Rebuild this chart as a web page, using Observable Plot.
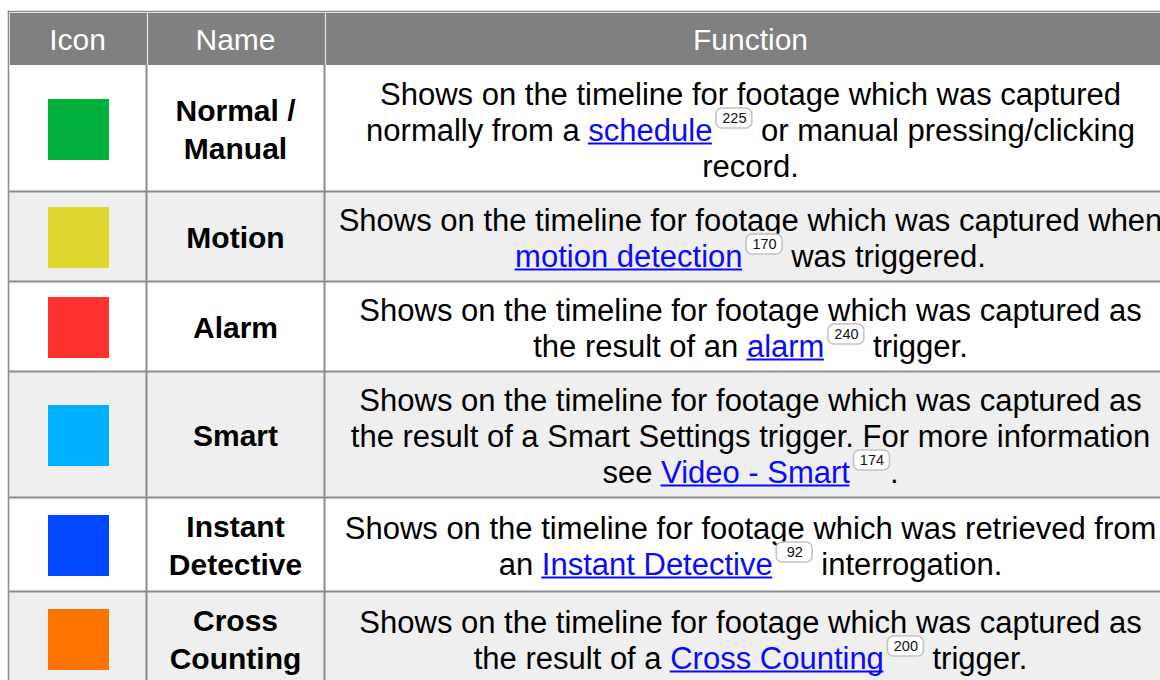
<!DOCTYPE html>
<html><head><meta charset="utf-8">
<script src="https://cdn.jsdelivr.net/npm/d3@7"></script>
<script src="https://cdn.jsdelivr.net/npm/@observablehq/plot@0.6"></script>
<style>html,body{margin:0;padding:0;background:#fff;overflow:hidden}</style>
</head><body><div id="chart"></div>
<script>
// ---- data ----
const headers = ["Icon", "Name", "Function"];
const names = ["Normal /\nManual", "Motion", "Alarm", "Smart", "Instant\nDetective", "Cross\nCounting"];
const iconColors = ["#00b13c", "#dfd62f", "#ff3030", "#00b0ff", "#0047ff", "#ff7300"];
const functions = [
  "Shows on the timeline for footage which was captured\nnormally from a [schedule]{225} or manual pressing/clicking\nrecord.",
  "Shows on the timeline for footage which was captured when\n[motion detection]{170} was triggered.",
  "Shows on the timeline for footage which was captured as\nthe result of an [alarm]{240} trigger.",
  "Shows on the timeline for footage which was captured as\nthe result of a Smart Settings trigger. For more information\nsee [Video - Smart]{174}.",
  "Shows on the timeline for footage which was retrieved from\nan [Instant Detective]{92} interrogation.",
  "Shows on the timeline for footage which was captured as\nthe result of a [Cross Counting]{200} trigger."
];

// ---- layout ----
const W = 1160, H = 680;
const FONT = "Liberation Sans, Arial, Helvetica, sans-serif";
const fnSize = 31, nameSize = 30, headSize = 30, badgeSize = 14.5;
const tableLeft = 8, tableTop = 11;
const colWidths = [138, 178, 852];
const colEdges = [tableLeft];
colWidths.forEach(w => colEdges.push(colEdges[colEdges.length - 1] + w));
const colMid = colWidths.map((w, i) => colEdges[i] + w / 2);
const headerBottom = 65;
const fnLineH = 36, nameLineH = 38, rowPad = 18;
const lineColor = "#8c8c8c", linkColor = "#0a0aff";
const badgeW = 36, badgeH = 20, badgeGap = 4;

const canvas = document.createElement("canvas");
const ctx = canvas.getContext("2d");
function measure(s, size, weight = "normal") {
  ctx.font = `${weight} ${size}px ${FONT}`;
  return ctx.measureText(s).width;
}

let cursorY = headerBottom;
const rows = names.map((n, i) => {
  const nl = n.split("\n"), fl = functions[i].split("\n");
  const h = Math.max(fl.length * fnLineH, nl.length * nameLineH) + rowPad;
  const r = {i, top: cursorY, bottom: cursorY + h, mid: cursorY + h / 2, nl, fl, color: iconColors[i]};
  cursorY += h;
  return r;
});
const tableBottom = cursorY;

function parse(line) {
  const segs = []; const re = /\[([^\]]+)\]\{(\d+)\}/g; let last = 0, m;
  while ((m = re.exec(line))) {
    if (m.index > last) segs.push({type: "text", text: line.slice(last, m.index)});
    segs.push({type: "link", text: m[1]});
    segs.push({type: "badge", text: m[2]});
    last = re.lastIndex;
  }
  if (last < line.length) segs.push({type: "text", text: line.slice(last)});
  return segs;
}

const nameLines = [], textSegs = [], underlines = [], badges = [];
rows.forEach(r => {
  r.nl.forEach((t, k) => nameLines.push({text: t, y: r.mid + 2 + (k - (r.nl.length - 1) / 2) * nameLineH}));
  r.fl.forEach((line, k) => {
    const y = r.mid + 3 + (k - (r.fl.length - 1) / 2) * fnLineH;
    const segs = parse(line);
    const widths = segs.map(s => s.type === "badge" ? badgeGap + badgeW : measure(s.text, fnSize));
    const total = d3.sum(widths);
    let x = colMid[2] - total / 2;
    segs.forEach((s, j) => {
      if (s.type === "badge") {
        const yc = y - 13;
        badges.push({x1: x + badgeGap, x2: x + badgeGap + badgeW, y1: yc - badgeH / 2, y2: yc + badgeH / 2, yc, text: s.text});
      } else {
        const lead = s.text.match(/^\s*/)[0];
        const trimmed = s.text.trim();
        if (trimmed) textSegs.push({text: trimmed, x: x + measure(lead, fnSize), y, link: s.type === "link"});
        if (s.type === "link") underlines.push({x1: x, x2: x + widths[j], y: y + 12});
      }
      x += widths[j];
    });
  });
});

const rightEdge = colEdges[3];
const plot = Plot.plot({
  width: W, height: H, margin: 0,
  x: {domain: [0, W], range: [0, W], axis: null},
  y: {domain: [0, H], range: [0, H], axis: null},
  style: {background: "#fff", fontFamily: FONT},
  marks: [
    // row backgrounds
    Plot.rect(rows, {x1: () => tableLeft + 1, x2: () => rightEdge, y1: "top", y2: "bottom", fill: d => d.i % 2 ? "#efefef" : "#ffffff"}),
    // header
    Plot.rect([0], {x1: () => tableLeft + 2, x2: () => rightEdge, y1: () => tableTop + 2, y2: () => headerBottom, fill: "#808080"}),
    Plot.ruleX(colEdges.slice(1, 3), {x: d => d + 1, y1: () => tableTop + 2, y2: () => headerBottom, stroke: "#e6e6e6", strokeWidth: 1.2}),
    // outer border
    Plot.ruleX([tableLeft], {y1: () => tableTop - 0.5, y2: () => H, stroke: lineColor, strokeWidth: 1.6}),
    Plot.ruleY([tableTop], {x1: () => tableLeft, x2: () => W, stroke: lineColor, strokeWidth: 1.6}),
    // body grid
    Plot.ruleX(colEdges.slice(1, 3), {y1: () => headerBottom, y2: () => tableBottom, stroke: lineColor, strokeWidth: 2}),
    Plot.ruleY(rows.slice(1), {y: "top", x1: () => tableLeft, x2: () => rightEdge, stroke: lineColor, strokeWidth: 2}),
    // icons
    Plot.rect(rows, {x1: () => colMid[0] - 29, x2: () => colMid[0] + 32, y1: d => d.mid - 29, y2: d => d.mid + 32, fill: "color"}),
    // header text
    Plot.text(headers, {x: (d, i) => colMid[i], y: () => (tableTop + headerBottom) / 2 + 2, text: d => d, fill: "#fff", fontSize: headSize, fontFamily: FONT}),
    // names
    Plot.text(nameLines, {x: () => colMid[1], y: "y", text: "text", fontWeight: "bold", fontSize: nameSize, fill: "#000", fontFamily: FONT}),
    // function text
    Plot.text(textSegs, {x: "x", y: "y", text: "text", textAnchor: "start", fill: d => d.link ? linkColor : "#000", fontSize: fnSize, fontFamily: FONT}),
    Plot.ruleY(underlines, {y: "y", x1: "x1", x2: "x2", stroke: linkColor, strokeWidth: 2}),
    // page badges
    Plot.rect(badges, {x1: "x1", x2: "x2", y1: "y1", y2: "y2", fill: "#fff", stroke: "#c4c4c4", strokeWidth: 1.6, rx: 6}),
    Plot.text(badges, {x: d => (d.x1 + d.x2) / 2, y: "yc", text: "text", fontSize: badgeSize, fill: "#111", fontFamily: FONT})
  ]
});
document.getElementById("chart").appendChild(plot);
</script>
</body></html>
